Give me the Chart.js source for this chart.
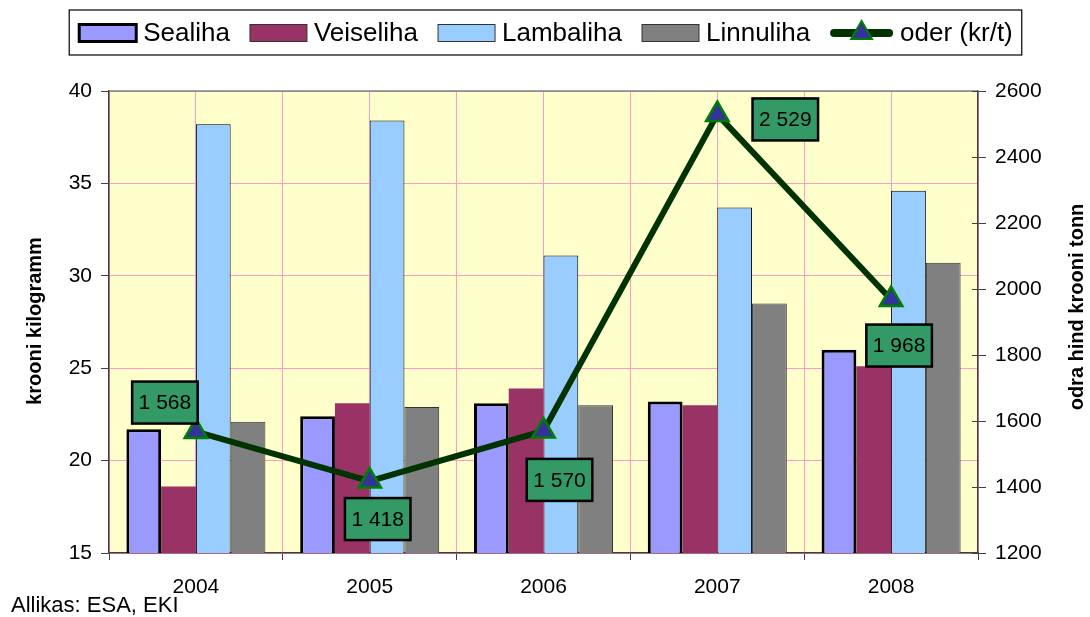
<!DOCTYPE html>
<html lang="et">
<head>
<meta charset="UTF-8">
<title>Lihahinnad ja odra hind</title>
<script src="https://cdn.jsdelivr.net/npm/chart.js@4"></script>
<style>
    body { margin: 0; background: #ffffff; }
    #wrap { width: 1090px; height: 617px; }
</style>
</head>
<body>
<div id="wrap"><canvas id="chart" width="1090" height="617"></canvas></div>
<script>
    // andmed (krooni kilogramm / odra hind krooni tonn)
    const years = ['2004', '2005', '2006', '2007', '2008'];
    const sealiha = [21.7, 22.4, 23.1, 23.2, 26.0];
    const veiseliha = [18.6, 23.1, 23.9, 23.0, 25.1];
    const lambaliha = [38.2, 38.4, 31.1, 33.7, 34.6];
    const linnuliha = [22.1, 22.9, 23.0, 28.5, 30.7];
    const oder = [1568, 1418, 1570, 2529, 1968];
    const leftTicks = [15, 20, 25, 30, 35, 40];
    const rightTicks = [1200, 1400, 1600, 1800, 2000, 2200, 2400, 2600];

    // label box offsets from the point, px
    const labelOffsets = [[-31, -29], [8, 38], [16, 49], [68, 5], [8, 46]];

    const FONT = '"Liberation Sans", Arial, sans-serif';
    const pink = '#ff99cc';
    const axisCol = '#404040';

    function fmt(v) {
        return String(v).replace(/\B(?=(\d{3})+(?!\d))/g, ' ');
    }

    const decor = {
        id: 'decor',
        beforeDraw(chart) {
            const ctx = chart.ctx, a = chart.chartArea;
            ctx.save();
            ctx.fillStyle = '#ffffff';
            ctx.fillRect(0, 0, chart.width, chart.height);
            ctx.fillStyle = '#ffffcc';
            ctx.fillRect(a.left, a.top, a.right - a.left, a.bottom - a.top);
            ctx.restore();
        },
        afterDraw(chart) {
            const ctx = chart.ctx, a = chart.chartArea;
            ctx.save();

            // top border of plot area
            ctx.strokeStyle = '#808080';
            ctx.lineWidth = 1.5;
            ctx.beginPath();
            ctx.moveTo(a.left, a.top);
            ctx.lineTo(a.right, a.top);
            ctx.stroke();

            // right axis ticks also reach inside the plot
            const y1 = chart.scales.y1;
            ctx.strokeStyle = axisCol;
            ctx.lineWidth = 1;
            y1.ticks.forEach(t => {
                const py = Math.round(y1.getPixelForValue(t.value)) + 0.5;
                ctx.beginPath();
                ctx.moveTo(a.right - 6, py);
                ctx.lineTo(a.right, py);
                ctx.stroke();
            });

            // value labels for oder
            const meta = chart.getDatasetMeta(4);
            ctx.font = '21px ' + FONT;
            ctx.textAlign = 'center';
            ctx.textBaseline = 'middle';
            meta.data.forEach((pt, i) => {
                const txt = fmt(oder[i]);
                const w = ctx.measureText(txt).width + 13;
                const h = 42;
                const cx = pt.x + labelOffsets[i][0];
                const cy = pt.y + labelOffsets[i][1];
                ctx.fillStyle = '#339966';
                ctx.fillRect(cx - w / 2, cy - h / 2, w, h);
                ctx.strokeStyle = '#000000';
                ctx.lineWidth = 2.5;
                ctx.strokeRect(cx - w / 2, cy - h / 2, w, h);
                ctx.fillStyle = '#000000';
                ctx.fillText(txt, cx, cy + 1);
            });

            // legend
            const ds = chart.data.datasets;
            ctx.font = '26px ' + FONT;
            ctx.textAlign = 'left';
            const items = ds.map(d => ({
                ds: d,
                iconW: d.type === 'line' ? 63 : 57,
                textW: ctx.measureText(d.label).width
            }));
            const gapIcon = 7, gapItem = 20;
            let total = 0;
            items.forEach((it, i) => {
                total += it.iconW + gapIcon + it.textW + (i < items.length - 1 ? gapItem : 0);
            });
            let x = (chart.width - total) / 2 + 1;
            const ly = 33;
            ctx.strokeStyle = '#000000';
            ctx.lineWidth = 1.2;
            ctx.strokeRect(x - 10, 10, total + 19, 45);
            items.forEach(it => {
                const d = it.ds;
                if (d.type === 'line') {
                    ctx.strokeStyle = d.borderColor;
                    ctx.lineWidth = 8;
                    ctx.lineCap = 'round';
                    ctx.beginPath();
                    ctx.moveTo(x + 4, ly);
                    ctx.lineTo(x + it.iconW - 4, ly);
                    ctx.stroke();
                    ctx.lineCap = 'butt';
                    const cx = x + it.iconW / 2, r = 12;
                    ctx.beginPath();
                    ctx.moveTo(cx, ly - r);
                    ctx.lineTo(cx + r * 0.866, ly + r * 0.5);
                    ctx.lineTo(cx - r * 0.866, ly + r * 0.5);
                    ctx.closePath();
                    ctx.fillStyle = d.pointBackgroundColor;
                    ctx.fill();
                    ctx.strokeStyle = d.pointBorderColor;
                    ctx.lineWidth = 2;
                    ctx.stroke();
                } else {
                    ctx.fillStyle = d.backgroundColor;
                    ctx.fillRect(x, ly - 8.5, it.iconW, 17);
                    ctx.strokeStyle = d.legendBorder;
                    ctx.lineWidth = d.legendBorderWidth;
                    ctx.strokeRect(x, ly - 8.5, it.iconW, 17);
                }
                x += it.iconW + gapIcon;
                ctx.fillStyle = '#000000';
                ctx.textBaseline = 'middle';
                ctx.fillText(d.label, x, ly + 1);
                x += it.textW + gapItem;
            });

            // axis titles
            ctx.font = 'bold 20px ' + FONT;
            ctx.textAlign = 'center';
            ctx.fillStyle = '#000000';
            ctx.save();
            ctx.translate(35, 321);
            ctx.rotate(-Math.PI / 2);
            ctx.fillText('krooni kilogramm', 0, 0);
            ctx.restore();
            ctx.save();
            ctx.translate(1077, 307);
            ctx.rotate(-Math.PI / 2);
            ctx.fillText('odra hind krooni tonn', 0, 0);
            ctx.restore();

            // source
            ctx.font = '22px ' + FONT;
            ctx.textAlign = 'left';
            ctx.fillText('Allikas: ESA, EKI', 11, 606);

            ctx.restore();
        }
    };

    const ctx = document.getElementById('chart').getContext('2d');
    const chart = new Chart(ctx, {
        data: {
            labels: years,
            datasets: [
                { type: 'bar', label: 'Sealiha', data: sealiha, backgroundColor: '#9999ff',
                  borderColor: '#000000', borderWidth: 3, borderSkipped: false,
                  legendBorder: '#000000', legendBorderWidth: 3, yAxisID: 'y', order: 1 },
                { type: 'bar', label: 'Veiseliha', data: veiseliha, backgroundColor: '#993366',
                  borderColor: '#993366', borderWidth: 0, borderSkipped: false,
                  legendBorder: '#333333', legendBorderWidth: 1, yAxisID: 'y', order: 1 },
                { type: 'bar', label: 'Lambaliha', data: lambaliha, backgroundColor: '#99ccff',
                  borderColor: '#000000', borderWidth: 1, borderSkipped: false,
                  legendBorder: '#333333', legendBorderWidth: 1, yAxisID: 'y', order: 1 },
                { type: 'bar', label: 'Linnuliha', data: linnuliha, backgroundColor: '#808080',
                  borderColor: '#333333', borderWidth: 1, borderSkipped: false,
                  legendBorder: '#333333', legendBorderWidth: 1, yAxisID: 'y', order: 1 },
                { type: 'line', label: 'oder (kr/t)', data: oder, yAxisID: 'y1',
                  borderColor: '#003300', borderWidth: 6, tension: 0, fill: false,
                  pointStyle: 'triangle', pointRadius: 13, pointHoverRadius: 13,
                  pointBackgroundColor: '#333399', pointBorderColor: '#008000',
                  pointBorderWidth: 2.5, order: 0 }
            ]
        },
        options: {
            responsive: false,
            animation: false,
            devicePixelRatio: 1,
            layout: { padding: { top: 91, left: 0, right: 0, bottom: 0 } },
            datasets: { bar: { categoryPercentage: 0.8, barPercentage: 1.0 } },
            plugins: {
                legend: { display: false },
                tooltip: { enabled: false }
            },
            scales: {
                x: {
                    type: 'category',
                    offset: true,
                    grid: { offset: true, color: pink, tickColor: axisCol, tickLength: 7, lineWidth: 1 },
                    border: { color: axisCol, width: 1.5 },
                    ticks: { color: '#000', font: { size: 21, family: FONT }, padding: 15, maxRotation: 0 },
                    afterFit(s) { s.height = 64; }
                },
                x2: {
                    type: 'category',
                    offset: true,
                    position: 'bottom',
                    grid: { offset: false, color: pink, drawTicks: false, tickLength: 0 },
                    border: { display: false },
                    ticks: { display: false },
                    afterFit(s) { s.height = 0; }
                },
                y: {
                    position: 'left',
                    min: 15, max: 40,
                    afterBuildTicks(s) { s.ticks = leftTicks.map(v => ({ value: v })); },
                    grid: { color: pink, tickColor: axisCol, tickLength: 8 },
                    border: { color: axisCol, width: 1.5 },
                    ticks: { color: '#000', font: { size: 21, family: FONT }, padding: 9,
                             callback: v => String(v) },
                    afterFit(s) { s.width = 109; }
                },
                y1: {
                    position: 'right',
                    min: 1200, max: 2600,
                    afterBuildTicks(s) { s.ticks = rightTicks.map(v => ({ value: v })); },
                    grid: { drawOnChartArea: false, tickColor: axisCol, tickLength: 8 },
                    border: { color: axisCol, width: 1.5 },
                    ticks: { color: '#000', font: { size: 21, family: FONT }, padding: 9,
                             callback: v => String(v) },
                    afterFit(s) { s.width = 112; }
                }
            }
        },
        plugins: [decor]
    });
</script>
</body>
</html>
